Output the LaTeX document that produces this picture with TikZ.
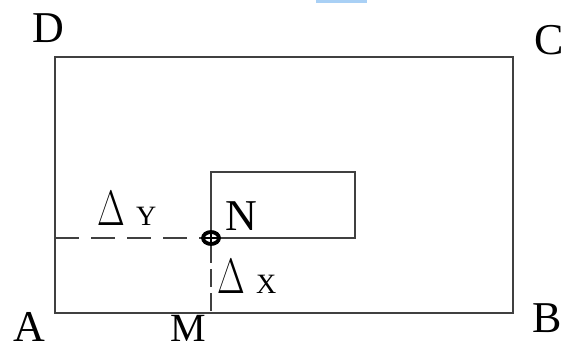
\documentclass[tikz,border=0pt]{standalone}
\usepackage{fontspec}
\setmainfont{Liberation Serif}
\usepackage{tikz}
\usetikzlibrary{calc}
\definecolor{stripblue}{HTML}{A9D0F5}
\tikzset{
  pt_lbl/.style={inner sep=0pt, anchor=base, font=\fontsize{22}{24}\selectfont},
  d_lbl/.style={inner sep=0pt, anchor=base west},
  rect_line/.style={draw=black!75, line width=1.1pt},
  dash_h/.style={draw=black!75, line width=1.1pt, dash pattern=on 12pt off 6pt},
  dash_v/.style={draw=black!75, line width=1.1pt, dash pattern=on 9pt off 3pt},
  probe/.style={draw=black, line width=1.9pt},
}
\newcommand{\dlt}[1]{{\fontsize{24}{24}\selectfont\scalebox{0.72}[1]{$\Delta$}}\hspace{5.5pt}{\fontsize{14}{14}\selectfont #1}}

\begin{document}
\begin{tikzpicture}[x=0.5pt, y=-0.5pt]
\useasboundingbox (0,0) rectangle (566,348);

% strip at the top
\fill[stripblue] (316,0) rectangle (367,3);

% corners
\coordinate (A) at (55,313);
\coordinate (B) at (513,313);
\coordinate (C) at (513,57);
\coordinate (D) at (55,57);
\coordinate (M) at (211,313);
\coordinate (N) at (211,238);
\coordinate (P) at (355,172);

% frames
\draw[rect_line] (A) rectangle (C);
\draw[rect_line] (N) rectangle (P);

% offsets
\draw[dash_h] (A |- N) -- ($(N)+(-8,0)$);
\draw[dash_v] ($(N)+(0,7)$) -- (M);

% point N
\draw[probe] (N) ellipse [x radius=8, y radius=6];
\draw[line width=0.9pt] ($(N)+(-8,0)$) -- ($(N)+(8,0)$);
\draw[line width=0.9pt] ($(N)+(0,-6)$) -- ($(N)+(0,6)$);

% labels
\node[pt_lbl] (lblD) at (48.5,42) {D};
\node[pt_lbl] (lblC) at (549,54) {C};
\node[pt_lbl] (lblA) at (29.5,341) {A};
\node[pt_lbl] (lblB) at (547,332) {B};
\node[pt_lbl, font=\fontsize{20}{22}\selectfont] (lblM) at (188,341) {M};
\node[pt_lbl] (lblN) at (241,230) {N};
\node[d_lbl] (lblDY) at (97,225) {\dlt{Y}};
\node[d_lbl] (lblDX) at (217,293) {\dlt{X}};

\end{tikzpicture}
\end{document}
